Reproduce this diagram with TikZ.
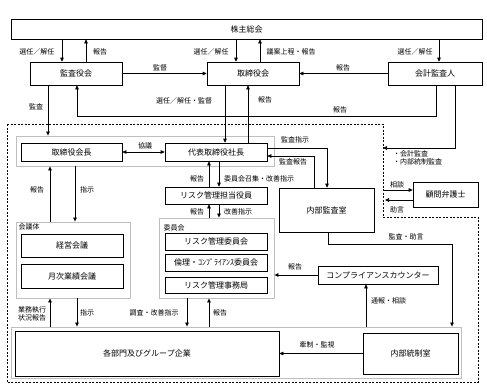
\documentclass[tikz,border=0pt]{standalone}
\usepackage{fontspec}
\setmainfont{Noto Sans CJK JP}
\usetikzlibrary{arrows.meta,calc,positioning}

\begin{document}
\begin{tikzpicture}[x=1pt,y=-1pt,
  box/.style={draw,line width=0.7pt,fill=white,inner sep=0pt,font=\fontsize{8}{9}\selectfont},
  grp/.style={draw=black!25,line width=0.9pt,inner sep=0pt},
  lbl/.style={inner sep=1pt,font=\fontsize{7}{8.5}\selectfont},
  arr/.style={line width=0.7pt,-{Triangle[length=4pt,width=3.6pt]}},
  dbl/.style={line width=0.7pt,{Triangle[length=4pt,width=3.6pt]}-{Triangle[length=4pt,width=3.6pt]}}]
\useasboundingbox (0,0) rectangle (487,391);
\draw[line width=0.7pt,dash pattern=on 2pt off 1.5pt] (7,124) -- (383,124) -- (383,217) -- (478,217) -- (478,382) -- (7,382) -- cycle;
% group frames
\node[grp,minimum width=258pt,minimum height=30pt] (gtop) at (145,151) {};
\node[grp,minimum width=114pt,minimum height=76pt] (gkaigi) at (73,260) {};
\node[grp,minimum width=115pt,minimum height=80pt] (giin) at (216.5,258) {};
\node[grp,minimum width=450pt,minimum height=51pt] (gbot) at (236,352.5) {};
\node[lbl] (tkaigi) at (29,227) {会議体};
\node[lbl] (tiin) at (174,228) {委員会};
% boxes
\node[box,minimum width=471pt,minimum height=20pt] (kabu) at (246.5,29) {株主総会};
\node[box,minimum width=92pt,minimum height=23pt] (kansa) at (76,73.5) {監査役会};
\node[box,minimum width=92pt,minimum height=23pt] (tori) at (253,73.5) {取締役会};
\node[box,minimum width=94pt,minimum height=23pt] (kaikei) at (435,73.5) {会計監査人};
\node[box,minimum width=101pt,minimum height=18pt] (kaicho) at (71.5,152) {取締役会長};
\node[box,minimum width=102pt,minimum height=18pt] (shacho) at (216,152) {代表取締役社長};
\node[box,minimum width=102pt,minimum height=17pt] (tanto) at (216,195.5) {リスク管理担当役員};
\node[box,minimum width=102pt,minimum height=23pt] (keiei) at (72,245.5) {経営会議};
\node[box,minimum width=102pt,minimum height=24pt] (getsuji) at (72,276) {月次業績会議};
\node[box,minimum width=102pt,minimum height=17pt] (rmc) at (216,241.5) {リスク管理委員会};
\node[box,minimum width=102pt,minimum height=17pt] (rinri) at (216,262.5) {倫理・ｺﾝﾌﾟﾗｲｱﾝｽ委員会};
\node[box,minimum width=102pt,minimum height=16pt] (rmo) at (216,285) {リスク管理事務局};
\node[box,minimum width=95pt,minimum height=44pt] (naibu) at (326.5,210) {内部監査室};
\node[box,minimum width=65pt,minimum height=25pt] (komon) at (445.5,194.5) {顧問弁護士};
\node[box,minimum width=120pt,minimum height=18pt] (cc) at (378,275) {コンプライアンスカウンター};
\node[box,minimum width=264pt,minimum height=45pt] (kakubu) at (147,353.5) {各部門及びグループ企業};
\node[box,minimum width=95pt,minimum height=41pt] (tosei) at (410.5,353.5) {内部統制室};
\coordinate (e1) at (383,148);
\coordinate (e2) at (383,190);
\coordinate (e3) at (383,200);
% connectors
\draw[arr] (kabu.south -| 62,0) -- (kansa.north -| 62,0);
\draw[arr] (kansa.north -| 86,0) -- (kabu.south -| 86,0);
\draw[arr] (kabu.south -| 236,0) -- (tori.north -| 236,0);
\draw[arr] (tori.north -| 260,0) -- (kabu.south -| 260,0);
\draw[arr] (kabu.south -| 439,0) -- (kaikei.north -| 439,0);
\draw[arr] (kansa.east) -- (tori.west);
\draw[arr] (kaikei.west) -- (tori.east);
\draw[arr] (kaikei.south -| 436,0) -- (436,116) -- (77,116) -- (kansa.south -| 77,0);
\draw[arr] (kansa.south -| 48,0) -- (gtop.north -| 48,0);
\draw[arr] (tori.south -| 225,0) -- (shacho.north -| 225,0);
\draw[arr] (shacho.north -| 248,0) -- (tori.south -| 248,0);
\draw[arr] (kaikei.south -| 455,0) |- (e1);
\draw[dbl] (kaicho.east) -- (shacho.west);
\draw[arr] ([yshift=4pt]shacho.east) -| (naibu.north -| 327,0);
\draw[arr] (naibu.north -| 314,0) |- ([yshift=-4pt]shacho.east);
\draw[arr] (tanto.north -| 209,0) -- (shacho.south -| 209,0);
\draw[arr] (shacho.south -| 219,0) -- (tanto.north -| 219,0);
\draw[arr] (giin.north -| 209,0) -- (tanto.south -| 209,0);
\draw[arr] (tanto.south -| 219,0) -- (giin.north -| 219,0);
\draw[arr] (gkaigi.north -| 50,0) -- (gtop.south -| 50,0);
\draw[arr] (gtop.south -| 75,0) -- (gkaigi.north -| 75,0);
\draw[arr] (gbot.north -| 50,0) -- (gkaigi.south -| 50,0);
\draw[arr] (gkaigi.south -| 77,0) -- (gbot.north -| 77,0);
\draw[arr] (giin.south -| 187,0) -- (gbot.north -| 187,0);
\draw[arr] (gbot.north -| 209,0) -- (giin.south -| 209,0);
\draw[arr] (naibu.south -| 328,0) -- (328,244) -- (452,244) -- (gbot.north -| 452,0);
\draw[arr] (cc.west) -- (giin.east |- cc.west);
\draw[arr] (gbot.north -| 366,0) -- (cc.south -| 366,0);
\draw[arr] (tosei.west) -- (kakubu.east);
\draw[arr] (e2) -- (komon.west |- e2);
\draw[arr] (komon.west |- e3) -- ([xshift=2pt]e3);
% labels
\node[lbl] (l1) at (37,52) {選任／解任};
\node[lbl] (l2) at (100,52) {報告};
\node[lbl] (l3) at (211,52) {選任／解任};
\node[lbl] (l4) at (291,52) {議案上程・報告};
\node[lbl] (l5) at (415,52) {選任／解任};
\node[lbl] (l6) at (160,68) {監督};
\node[lbl] (l7) at (343,68) {報告};
\node[lbl] (l8) at (184,101) {選任／解任・監督};
\node[lbl] (l9) at (265,100) {報告};
\node[lbl] (l10) at (340,110) {報告};
\node[lbl] (l11) at (36,107) {監査};
\node[lbl,anchor=west,align=left] (l12) at (392,158) {・会計監査\\・内部統制監査};
\node[lbl] (l13) at (145,146) {協議};
\node[lbl] (l14) at (295,140) {監査指示};
\node[lbl] (l15) at (293,162) {監査報告};
\node[lbl] (l16) at (197,179) {報告};
\node[lbl,anchor=west] (l17) at (223,179) {委員会召集・改善指示};
\node[lbl] (l18) at (197,212) {報告};
\node[lbl,anchor=west] (l19) at (223,212) {改善指示};
\node[lbl] (l20) at (37,190) {報告};
\node[lbl] (l21) at (87,190) {指示};
\node[lbl,align=center] (l22) at (32,314) {業務執行\\状況報告};
\node[lbl] (l23) at (87,313) {指示};
\node[lbl] (l24) at (154,313) {調査・改善指示};
\node[lbl] (l25) at (220,313) {報告};
\node[lbl] (l26) at (406,237) {監査・助言};
\node[lbl] (l27) at (295,267) {報告};
\node[lbl,anchor=west] (l28) at (370,301) {通報・相談};
\node[lbl] (l29) at (317,345) {牽制・監視};
\node[lbl] (l30) at (397,185) {相談};
\node[lbl] (l31) at (397,210) {助言};
\end{tikzpicture}
\end{document}
